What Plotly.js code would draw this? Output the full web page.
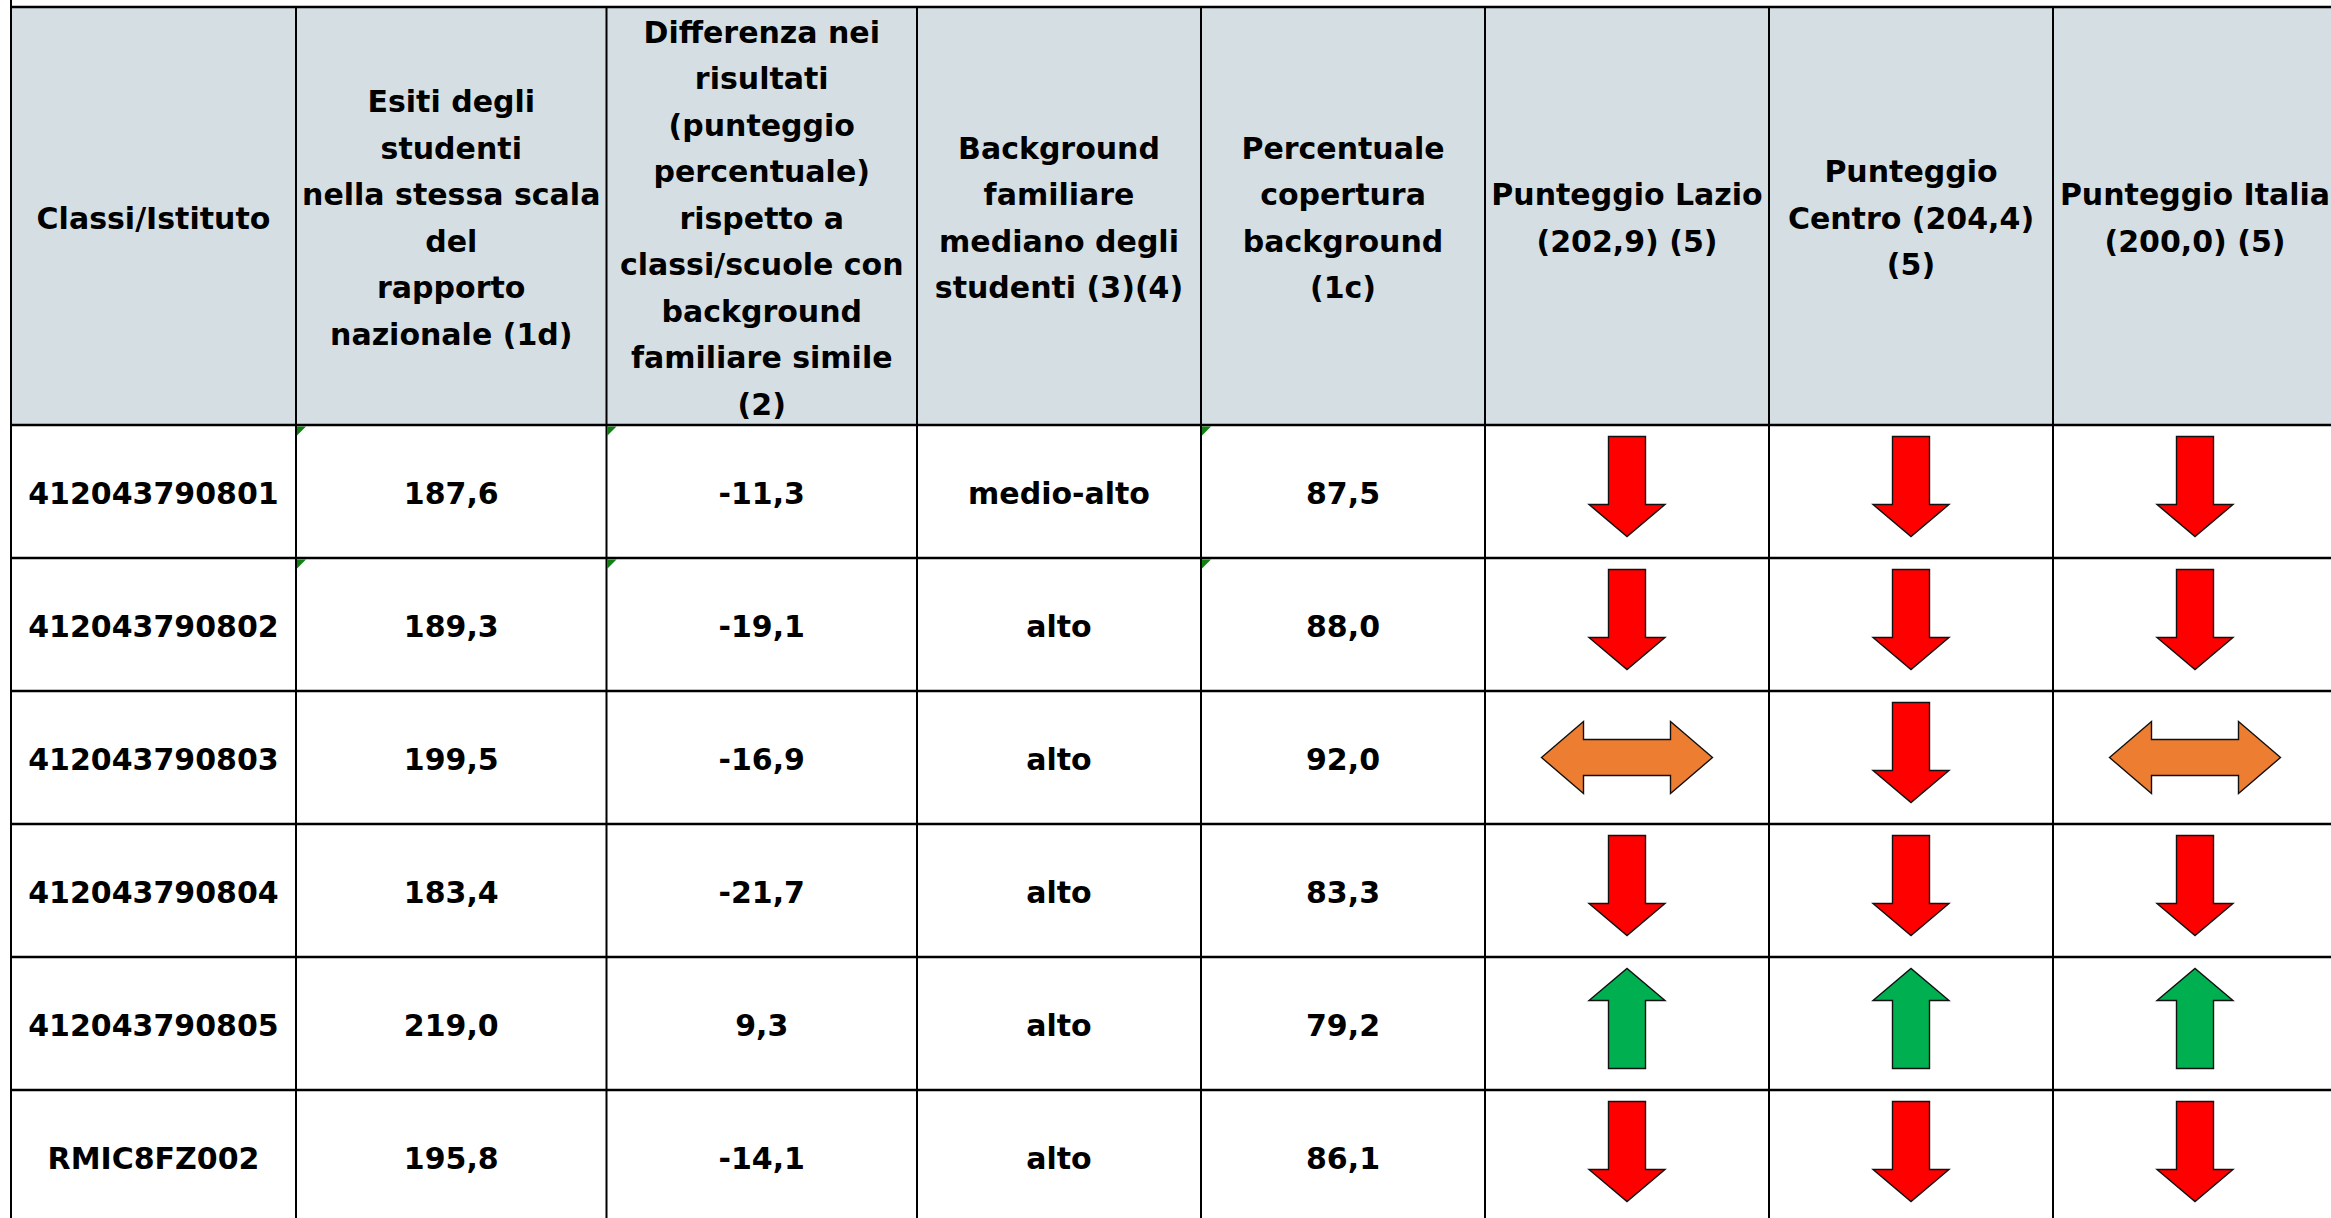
<!DOCTYPE html>
<html>
<head>
<meta charset="utf-8">
<script src="https://cdn.plot.ly/plotly-3.0.1.min.js"></script>
<style>
  html, body { margin: 0; padding: 0; background: #ffffff; }
  #chart { width: 2331px; height: 1218px; }
</style>
</head>
<body>
<div id="chart"></div>
<script>
// ---------------- DATA ----------------
const classes    = ['412043790801', '412043790802', '412043790803', '412043790804', '412043790805', 'RMIC8FZ002'];
const esiti      = [187.6, 189.3, 199.5, 183.4, 219.0, 195.8];
const differenza = [-11.3, -19.1, -16.9, -21.7, 9.3, -14.1];
const background = ['medio-alto', 'alto', 'alto', 'alto', 'alto', 'alto'];
const copertura  = [87.5, 88.0, 92.0, 83.3, 79.2, 86.1];
const trendLazio  = ['down', 'down', 'both', 'down', 'up', 'down'];
const trendCentro = ['down', 'down', 'down', 'down', 'up', 'down'];
const trendItalia = ['down', 'down', 'both', 'down', 'up', 'down'];
const headerLines = [
  ['Classi/Istituto'],
  ['Esiti degli', 'studenti', 'nella stessa scala', 'del', 'rapporto', 'nazionale (1d)'],
  ['Differenza nei', 'risultati', '(punteggio', 'percentuale)', 'rispetto a', 'classi/scuole con', 'background', 'familiare simile', '(2)'],
  ['Background', 'familiare', 'mediano degli', 'studenti (3)(4)'],
  ['Percentuale', 'copertura', 'background', '(1c)'],
  ['Punteggio Lazio', '(202,9) (5)'],
  ['Punteggio', 'Centro (204,4)', '(5)'],
  ['Punteggio Italia', '(200,0) (5)']
];
// Excel "number stored as text" markers: [row, column]
const textMarkers = [[0, 1], [0, 2], [0, 4], [1, 1], [1, 2], [1, 4]];

// ---------------- LAYOUT GEOMETRY ----------------
const W = 2331, H = 1218;
const colEdges = [11, 296, 606.5, 917, 1201, 1485, 1769, 2053, 2337];
const headerTop = 7, headerBottom = 425, rowH = 133;
const lineGap = 46.5;
const textDy = 5;
const FONT = {family: 'DejaVu Sans, Verdana, sans-serif', size: 30, color: '#000000', weight: 'bold'};
const headerBg = '#D5DFE3';

const fmt = v => v.toFixed(1).replace('.', ',');
const colCenter = j => (colEdges[j] + colEdges[j + 1]) / 2;
const rowTop = i => headerBottom + i * rowH;
const rowCenter = i => rowTop(i) + rowH / 2;
const nRows = classes.length;

// ---------------- TEXT TRACES ----------------
const traces = [];
// header
const hx = [], hy = [], ht = [];
headerLines.forEach((lines, j) => {
  const c = (headerTop + headerBottom) / 2 + textDy;
  lines.forEach((t, k) => {
    hx.push(colCenter(j));
    hy.push(c + (k - (lines.length - 1) / 2) * lineGap);
    ht.push(t);
  });
});
traces.push({type: 'scatter', mode: 'text', x: hx, y: hy, text: ht,
  textposition: 'middle center', textfont: FONT, hoverinfo: 'skip', showlegend: false, cliponaxis: false});

const bodyCols = [
  classes,
  esiti.map(fmt),
  differenza.map(fmt),
  background,
  copertura.map(fmt)
];
bodyCols.forEach((vals, j) => {
  traces.push({type: 'scatter', mode: 'text',
    x: vals.map(() => colCenter(j)),
    y: vals.map((_, i) => rowCenter(i) + textDy),
    text: vals, textposition: 'middle center', textfont: FONT,
    hoverinfo: 'skip', showlegend: false, cliponaxis: false});
});

// ---------------- SHAPES ----------------
const shapes = [];
// header background
shapes.push({type: 'rect', xref: 'x', yref: 'y', x0: colEdges[0], x1: colEdges[colEdges.length - 1],
  y0: headerTop, y1: headerBottom, fillcolor: headerBg, line: {width: 0}, layer: 'below'});

// text markers (green corner triangles)
textMarkers.forEach(([i, j]) => {
  const x0 = colEdges[j] + 1, y0 = rowTop(i) + 1.5, s = 9;
  shapes.push({type: 'path', xref: 'x', yref: 'y',
    path: `M${x0},${y0} L${x0 + s},${y0} L${x0},${y0 + s} Z`,
    fillcolor: '#128012', line: {width: 0}, layer: 'below'});
});

// horizontal grid lines
const hLines = [headerTop, headerBottom];
for (let i = 1; i <= nRows; i++) hLines.push(rowTop(i));
hLines.forEach(y => shapes.push({type: 'line', xref: 'x', yref: 'y',
  x0: colEdges[0], x1: W + 10, y0: y, y1: y, line: {color: '#000000', width: 2.6}}));
// vertical grid lines
colEdges.forEach((x, j) => shapes.push({type: 'line', xref: 'x', yref: 'y',
  x0: x, x1: x, y0: j === 0 ? 0 : headerTop, y1: H + 10, line: {color: '#000000', width: 2}}));

// arrows
const ARROW = {len: 100, shaft: 37, head: 76, headLen: 32, dy: -5};
const DOUBLE = {len: 171, h: 72, shaft: 36, headLen: 42};
const colors = {down: '#FF0000', up: '#00B050', both: '#ED7D31'};
function arrowPath(kind, cx, cy) {
  if (kind === 'both') {
    const L = cx - DOUBLE.len / 2, R = cx + DOUBLE.len / 2;
    const hl = DOUBLE.headLen, hh = DOUBLE.h / 2, sh = DOUBLE.shaft / 2;
    return `M${L},${cy} L${L + hl},${cy - hh} L${L + hl},${cy - sh} L${R - hl},${cy - sh} L${R - hl},${cy - hh} ` +
           `L${R},${cy} L${R - hl},${cy + hh} L${R - hl},${cy + sh} L${L + hl},${cy + sh} L${L + hl},${cy + hh} Z`;
  }
  const c = cy + ARROW.dy;
  const s = ARROW.shaft / 2, h = ARROW.head / 2;
  const dir = kind === 'down' ? 1 : -1;           // +1: tip at bottom (y grows downward)
  const tail = c - dir * ARROW.len / 2, tip = c + dir * ARROW.len / 2;
  const base = tip - dir * ARROW.headLen;
  return `M${cx - s},${tail} L${cx + s},${tail} L${cx + s},${base} L${cx + h},${base} L${cx},${tip} ` +
         `L${cx - h},${base} L${cx - s},${base} Z`;
}
[trendLazio, trendCentro, trendItalia].forEach((arr, k) => {
  const j = 5 + k;
  arr.forEach((kind, i) => {
    shapes.push({type: 'path', xref: 'x', yref: 'y', path: arrowPath(kind, colCenter(j), rowCenter(i)),
      fillcolor: colors[kind], line: {color: '#111111', width: 1.4}});
  });
});

const layout = {
  width: W, height: H,
  margin: {l: 0, r: 0, t: 0, b: 0, pad: 0},
  paper_bgcolor: '#ffffff', plot_bgcolor: '#ffffff',
  xaxis: {range: [0, W], visible: false, fixedrange: true},
  yaxis: {range: [H, 0], visible: false, fixedrange: true},
  shapes: shapes,
  showlegend: false
};

Plotly.newPlot('chart', traces, layout, {staticPlot: true, displayModeBar: false});
</script>
</body>
</html>
